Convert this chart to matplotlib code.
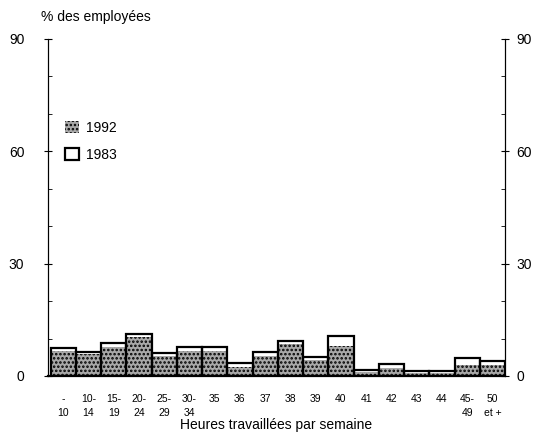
import numpy as np
import matplotlib
matplotlib.use("Agg")
import matplotlib.pyplot as plt
from matplotlib.ticker import MultipleLocator

plt.rcParams['font.family'] = ['Liberation Sans', 'DejaVu Sans']
plt.rcParams['hatch.linewidth'] = 1.2

# tranches d'heures
labels = ["-\n10", "10-\n14", "15-\n19", "20-\n24", "25-\n29", "30-\n34",
          "35", "36", "37", "38", "39", "40", "41", "42", "43", "44",
          "45-\n49", "50\net +"]
# % des employées
v1983 = [7.4, 6.5, 8.7, 11.2, 6.1, 7.7, 7.7, 3.4, 6.3, 9.4, 5.2, 10.7,
         1.6, 3.1, 1.2, 1.2, 4.9, 4.0]
v1992 = [6.8, 6.0, 7.8, 10.5, 5.3, 6.8, 6.6, 2.5, 5.4, 8.5, 4.3, 8.0,
         1.1, 2.2, 0.8, 0.8, 3.0, 3.0]
yticks = [0, 30, 60, 90]

x = np.arange(len(labels))

fig = plt.figure(figsize=(5.34, 4.4), dpi=100)
ax = fig.add_axes([0.0899, 0.1455, 0.8558, 0.7659])

b92 = ax.bar(x, v1992, width=1.0, color="#a8a8a8", edgecolor="black",
             hatch="....", linewidth=0, label="1992")
b83 = ax.bar(x, v1983, width=1.0, fill=False, edgecolor="black",
             linewidth=1.6, label="1983")

ax.set_xlim(-0.6, len(labels) - 0.5)
ax.set_ylim(0, 90)
ax.set_yticks(yticks)
ax.yaxis.set_minor_locator(MultipleLocator(10))
ax.set_xticks(x)
ax.set_xticklabels(labels, fontsize=7.5, linespacing=1.5)
ax.tick_params(axis="x", length=0, pad=13)
ax.tick_params(axis="y", which="major", direction="inout", length=6,
               labelsize=10, pad=14)
ax.tick_params(axis="y", which="minor", direction="in", length=3)

# axe de droite
ax2 = ax.twinx()
ax2.set_ylim(0, 90)
ax2.set_yticks(yticks)
ax2.yaxis.set_minor_locator(MultipleLocator(10))
ax2.tick_params(axis="y", which="major", direction="inout", length=6,
                labelsize=10, pad=5)
ax2.tick_params(axis="y", which="minor", direction="in", length=3)

for a in (ax, ax2):
    a.spines["top"].set_visible(False)
ax.spines["bottom"].set_linewidth(1.6)
ax2.spines["bottom"].set_visible(False)

ax.text(-0.015, 1.045, "% des employées", transform=ax.transAxes,
        fontsize=10, ha="left", va="bottom")
ax.set_xlabel("Heures travaillées par semaine", fontsize=10, labelpad=0)

ax.legend(handles=[b92, b83], loc="upper left",
          bbox_to_anchor=(0.01, 0.795), frameon=False, fontsize=10,
          handlelength=1.0, handleheight=1.0, labelspacing=0.95,
          handletextpad=0.5)

fig.savefig("out.png", dpi=100)
